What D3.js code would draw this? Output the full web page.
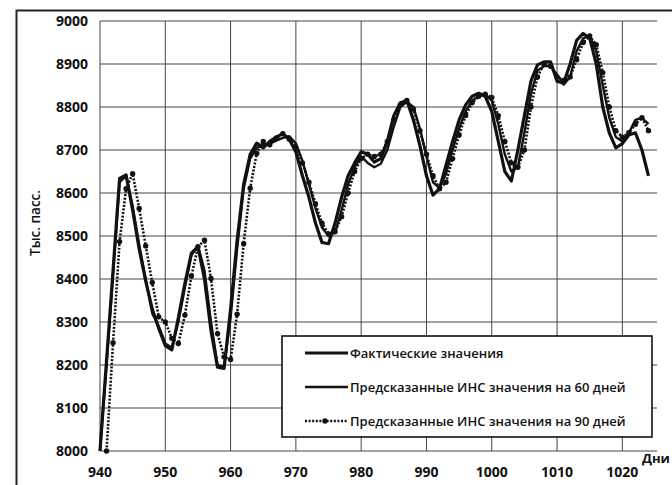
<!DOCTYPE html>
<meta charset="utf-8">
<style>
    body { margin: 0; background: #fff; }
    .tick-label { font-family: 'Open Sans', sans-serif; font-size: 14px; font-weight: 700; fill: #111; }
    .legend-text { font-family: 'Open Sans', sans-serif; font-size: 13px; font-weight: 600; fill: #111; }
    .grid line { stroke: #444; stroke-width: 1; }
</style>
<svg width="672" height="485"></svg>
<script src="https://d3js.org/d3.v7.min.js"></script>
<script>
    // days 940..1024
    var days = d3.range(940, 1025);
    var actual = [8000, 8210, 8420, 8634, 8642, 8560, 8470, 8395, 8330, 8285,
                  8245, 8235, 8310, 8390, 8460, 8475, 8400, 8280, 8195, 8192,
                  8330, 8490, 8620, 8690, 8716, 8705, 8720, 8730, 8738, 8725,
                  8695, 8640, 8590, 8530, 8485, 8482, 8530, 8590, 8640, 8670,
                  8696, 8690, 8672, 8680, 8720, 8780, 8810, 8815, 8770, 8710,
                  8640, 8595, 8610, 8665, 8720, 8770, 8805, 8825, 8832, 8825,
                  8790, 8720, 8650, 8628, 8700, 8780, 8860, 8898, 8905, 8905,
                  8860, 8855, 8900, 8955, 8971, 8960, 8900, 8800, 8740, 8705,
                  8715, 8735, 8740, 8700, 8640];
    var pred60 = [8000, 8200, 8410, 8625, 8640, 8570, 8480, 8400, 8320, 8290,
                  8250, 8240, 8300, 8380, 8455, 8478, 8420, 8300, 8200, 8195,
                  8310, 8470, 8610, 8680, 8705, 8712, 8715, 8722, 8728, 8732,
                  8715, 8675, 8620, 8565, 8520, 8500, 8508, 8560, 8620, 8660,
                  8685, 8670, 8660, 8668, 8700, 8755, 8800, 8812, 8800, 8750,
                  8685, 8625, 8612, 8645, 8700, 8750, 8790, 8815, 8825, 8830,
                  8815, 8760, 8690, 8650, 8660, 8740, 8830, 8885, 8895, 8895,
                  8875, 8852, 8870, 8930, 8960, 8965, 8930, 8850, 8775, 8730,
                  8720, 8740, 8770, 8775, 8760];
    var pred90 = [null, 8000, 8252, 8487, 8610, 8645, 8564, 8477, 8392, 8312,
                  8300, 8262, 8250, 8316, 8407, 8475, 8490, 8401, 8273, 8219,
                  8213, 8318, 8482, 8611, 8692, 8720, 8712, 8728, 8738, 8725,
                  8705, 8670, 8625, 8575, 8530, 8505, 8510, 8545, 8600, 8650,
                  8680, 8690, 8685, 8690, 8720, 8770, 8805, 8815, 8795, 8745,
                  8690, 8640, 8610, 8625, 8680, 8735, 8780, 8810, 8825, 8830,
                  8822, 8780, 8720, 8670, 8660, 8700, 8800, 8870, 8900, 8895,
                  8870, 8862, 8870, 8910, 8950, 8965, 8945, 8880, 8800, 8745,
                  8730, 8740, 8760, 8775, 8745];
    var xTicks = [940, 950, 960, 970, 980, 990, 1000, 1010, 1020];
    var yTicks = [8000, 8100, 8200, 8300, 8400, 8500, 8600, 8700, 8800, 8900, 9000];
    var legendLabels = ["Фактические значения",
                        "Предсказанные ИНС значения на 60 дней",
                        "Предсказанные ИНС значения на 90 дней"];

    var svg = d3.select("svg");

    var x = d3.scaleLinear().domain([940, 1025]).range([100, 655]);
    var y = d3.scaleLinear().domain([8000, 9000]).range([451, 21]);

    // outer frame
    svg.append("rect")
        .attr("x", 16.5).attr("y", 10.5)
        .attr("width", 700).attr("height", 500)
        .attr("fill", "none").attr("stroke", "#222").attr("stroke-width", 2);

    // grid
    var grid = svg.append("g").attr("class", "grid");
    grid.selectAll(".h").data(yTicks).enter().append("line")
        .attr("x1", x(940)).attr("x2", x(1025) + 2)
        .attr("y1", function(d) { return y(d); })
        .attr("y2", function(d) { return y(d); });
    grid.selectAll(".v").data(xTicks).enter().append("line")
        .attr("x1", function(d) { return x(d); })
        .attr("x2", function(d) { return x(d); })
        .attr("y1", y(9000)).attr("y2", y(8000));

    // tick labels
    svg.selectAll(".ylab").data(yTicks).enter().append("text")
        .attr("class", "tick-label")
        .attr("x", 88).attr("y", function(d) { return y(d) + 5; })
        .attr("text-anchor", "end")
        .text(function(d) { return d; });
    svg.selectAll(".xlab").data(xTicks).enter().append("text")
        .attr("class", "tick-label")
        .attr("x", function(d) { return x(d); }).attr("y", 477)
        .attr("text-anchor", "middle")
        .text(function(d) { return d; });

    svg.append("text")
        .attr("class", "tick-label")
        .attr("transform", "translate(40,223) rotate(-90)")
        .attr("text-anchor", "middle")
        .style("font-size", "13.5px").style("font-weight", 600)
        .text("Тыс. пасс.");
    svg.append("text")
        .attr("class", "tick-label")
        .attr("x", 642).attr("y", 463)
        .style("font-size", "13px")
        .text("Дни");

    // series
    var line = d3.line()
        .defined(function(d) { return d[1] != null; })
        .x(function(d) { return x(d[0]); })
        .y(function(d) { return y(d[1]); });

    function pairs(vals) { return days.map(function(d, i) { return [d, vals[i]]; }); }

    svg.append("path").datum(pairs(pred60))
        .attr("d", line).attr("fill", "none")
        .attr("stroke", "#111").attr("stroke-width", 2.4).attr("stroke-linejoin", "round");
    svg.append("path").datum(pairs(actual))
        .attr("d", line).attr("fill", "none")
        .attr("stroke", "#111").attr("stroke-width", 3.2).attr("stroke-linejoin", "round");
    svg.append("path").datum(pairs(pred90))
        .attr("d", line).attr("fill", "none")
        .attr("stroke", "#111").attr("stroke-width", 2.6)
        .attr("stroke-dasharray", "2,1.6");
    svg.selectAll(".dot").data(pairs(pred90).filter(function(d) { return d[1] != null; }))
        .enter().append("circle")
        .attr("cx", function(d) { return x(d[0]); })
        .attr("cy", function(d) { return y(d[1]); })
        .attr("r", 2.7).attr("fill", "#111");

    // legend
    var lg = svg.append("g").attr("transform", "translate(282,336)");
    lg.append("rect")
        .attr("width", 370).attr("height", 101)
        .attr("fill", "#fff").attr("stroke", "#111").attr("stroke-width", 1.6);
    var rows = [17, 51, 85];
    legendLabels.forEach(function(t, i) {
        var row = lg.append("g").attr("transform", "translate(0," + rows[i] + ")");
        var ln = row.append("line")
            .attr("x1", 23).attr("x2", 66).attr("y1", 0).attr("y2", 0)
            .attr("stroke", "#111");
        if (i == 0) ln.attr("stroke-width", 3.2);
        if (i == 1) ln.attr("stroke-width", 2.4);
        if (i == 2) {
            ln.attr("stroke-width", 2.6).attr("stroke-dasharray", "2,1.6");
            row.append("circle").attr("cx", 43).attr("cy", 0).attr("r", 2.7).attr("fill", "#111");
        }
        row.append("text").attr("class", "legend-text")
            .attr("x", 68).attr("y", 4.5).text(t);
    });
</script>
